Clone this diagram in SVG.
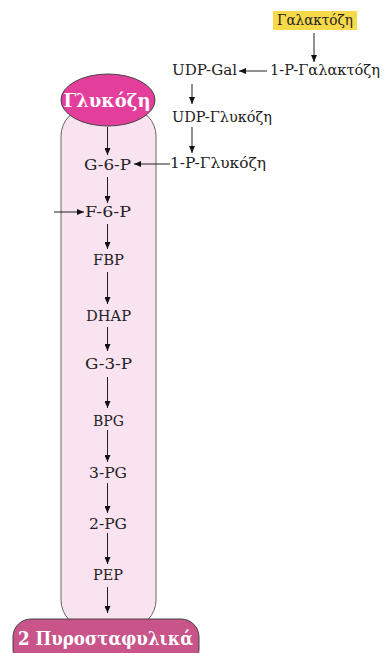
<svg xmlns="http://www.w3.org/2000/svg" width="385" height="653" viewBox="0 0 385 653">
<defs>
<marker id="ah" markerWidth="7" markerHeight="6" refX="7" refY="3" orient="auto" markerUnits="userSpaceOnUse">
<path d="M0,0 L7,3 L0,6 Z" fill="#111"/>
</marker>
</defs>
<style>
.t{font-family:"DejaVu Serif","Liberation Serif",serif;font-size:14px;fill:#222;text-anchor:middle}
.w{font-family:"DejaVu Serif","Liberation Serif",serif;font-weight:bold;fill:#fff;text-anchor:middle}
.c{stroke:#222;stroke-width:1;fill:none;marker-end:url(#ah)}
</style>
<rect width="385" height="653" fill="#fff"/>
<g id="tube">
<rect x="61" y="108" width="95" height="520" rx="28" ry="28" fill="#fae3f1" stroke="#666" stroke-width="1"/>
</g>
<g id="connectors">
<line class="c" x1="107.5" y1="127" x2="107.5" y2="155"/>
<line class="c" x1="107.5" y1="177" x2="107.5" y2="203"/>
<line class="c" x1="107.5" y1="224" x2="107.5" y2="249"/>
<line class="c" x1="107.5" y1="272" x2="107.5" y2="304"/>
<line class="c" x1="107.5" y1="327" x2="107.5" y2="351"/>
<line class="c" x1="107.5" y1="377" x2="107.5" y2="408"/>
<line class="c" x1="107.5" y1="430" x2="107.5" y2="462"/>
<line class="c" x1="107.5" y1="483" x2="107.5" y2="513"/>
<line class="c" x1="107.5" y1="533" x2="107.5" y2="564"/>
<line class="c" x1="107.5" y1="587" x2="107.5" y2="613"/>
<line class="c" x1="314" y1="33" x2="314" y2="62"/>
<line class="c" x1="267" y1="71" x2="239" y2="71"/>
<line class="c" x1="192" y1="84" x2="192" y2="104"/>
<line class="c" x1="192" y1="127" x2="192" y2="153"/>
<line class="c" x1="170" y1="164" x2="134" y2="164"/>
<line class="c" x1="54" y1="212" x2="84" y2="212"/>
</g>
<g id="glucose">
<ellipse cx="108" cy="100" rx="47" ry="26" fill="#e43e9c" stroke="#444" stroke-width="1"/>
<text class="w" x="107" y="107" font-size="18" textLength="87" lengthAdjust="spacingAndGlyphs">Γλυκόζη</text>
</g>
<g id="pyruvate">
<rect x="13" y="619" width="186" height="48" rx="18" ry="18" fill="#c85489" stroke="#444" stroke-width="1"/>
<text class="w" x="105.5" y="645" font-size="18" textLength="175" lengthAdjust="spacingAndGlyphs">2 Πυροσταφυλικά</text>
</g>
<g id="g6p"><text class="t" x="107.5" y="170" textLength="47" lengthAdjust="spacingAndGlyphs">G-6-P</text></g>
<g id="f6p"><text class="t" x="108" y="217" textLength="46" lengthAdjust="spacingAndGlyphs">F-6-P</text></g>
<g id="fbp"><text class="t" x="108.5" y="265" textLength="31" lengthAdjust="spacingAndGlyphs">FBP</text></g>
<g id="dhap"><text class="t" x="108.5" y="321" textLength="45" lengthAdjust="spacingAndGlyphs">DHAP</text></g>
<g id="g3p"><text class="t" x="108.5" y="369" textLength="47" lengthAdjust="spacingAndGlyphs">G-3-P</text></g>
<g id="bpg"><text class="t" x="108.5" y="426" textLength="31" lengthAdjust="spacingAndGlyphs">BPG</text></g>
<g id="pg3"><text class="t" x="108" y="478" textLength="38" lengthAdjust="spacingAndGlyphs">3-PG</text></g>
<g id="pg2"><text class="t" x="108" y="529" textLength="38" lengthAdjust="spacingAndGlyphs">2-PG</text></g>
<g id="pep"><text class="t" x="108" y="580" textLength="30" lengthAdjust="spacingAndGlyphs">PEP</text></g>
<g id="galactose">
<rect x="273" y="11" width="84" height="19" fill="#f7d94a"/>
<text class="t" x="315" y="25" textLength="76" lengthAdjust="spacingAndGlyphs">Γαλακτόζη</text>
</g>
<g id="p1gal"><text class="t" x="325" y="75" textLength="110" lengthAdjust="spacingAndGlyphs">1-P-Γαλακτόζη</text></g>
<g id="udpgal"><text class="t" x="204.5" y="75" textLength="65" lengthAdjust="spacingAndGlyphs">UDP-Gal</text></g>
<g id="udpglc"><text class="t" x="222" y="122" textLength="100" lengthAdjust="spacingAndGlyphs">UDP-Γλυκόζη</text></g>
<g id="p1glc"><text class="t" x="218" y="168" textLength="96" lengthAdjust="spacingAndGlyphs">1-P-Γλυκόζη</text></g>
</svg>
